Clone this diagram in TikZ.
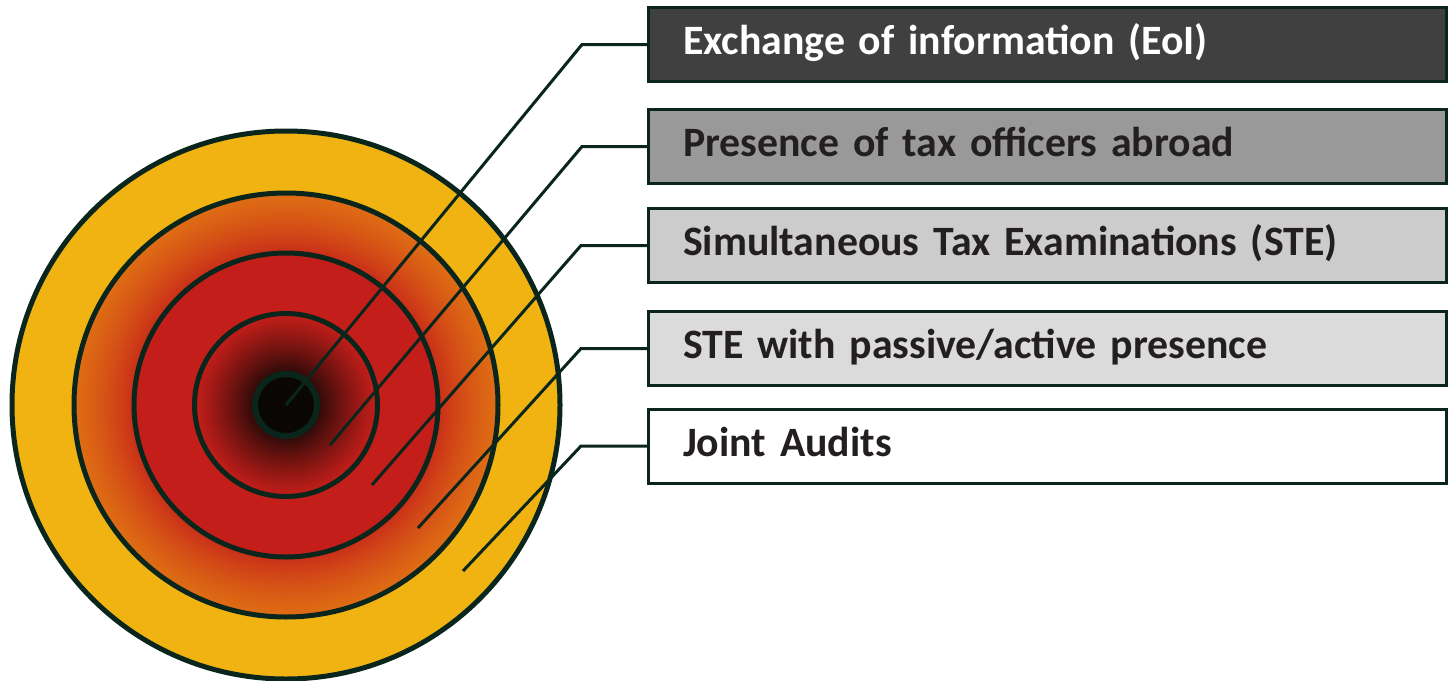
\documentclass[tikz,border=0pt]{standalone}
\usepackage{fontspec}
\setmainfont{Carlito}
\definecolor{lineC}{RGB}{10,38,28}
\definecolor{yel}{RGB}{240,179,18}
\definecolor{org}{RGB}{222,108,20}
\definecolor{redC}{RGB}{196,30,26}
\definecolor{blk}{RGB}{10,6,4}
\definecolor{txtD}{RGB}{35,31,32}
\definecolor{f1}{RGB}{64,64,64}
\definecolor{f2}{RGB}{153,153,153}
\definecolor{f3}{RGB}{204,204,204}
\definecolor{f4}{RGB}{219,219,219}
\tikzset{
  ring/.style={draw=lineC, line width=2.5pt},
  lbox/.style={draw=lineC, line width=1.5pt, rectangle, minimum height=37pt,
    text width=364.5pt, inner xsep=17.25pt, inner ysep=0pt, align=left,
    text height=14pt, text depth=4pt,
    font=\fontsize{20.9}{24}\selectfont\bfseries, text=txtD},
  conn/.style={draw=lineC, line width=1.5pt},
}
\begin{document}
\begin{tikzpicture}[x=0.5pt,y=-0.5pt]
\useasboundingbox (0,0) rectangle (1451,680);
\coordinate (c) at (286,405);
% outer disc
\fill[yel] (c) circle[radius=137pt];
% ring 2 gradient orange -> red
\foreach \i in {0,...,60}{
  \pgfmathsetmacro{\rr}{(212-\i)/2}
  \pgfmathsetmacro{\pp}{100-80*(\i/60)^1.3}
  \fill[org!\pp!redC] (c) circle[radius=\rr pt];
}
\fill[redC] (c) circle[radius=76pt];
% ring 4 gradient red -> dark
\foreach \i in {0,...,66}{
  \pgfmathsetmacro{\rr}{(91-\i)/2}
  \pgfmathsetmacro{\pp}{100*((66-\i)/66)^0.8}
  \fill[redC!\pp!blk] (c) circle[radius=\rr pt];
}
\draw[ring] (c) circle[radius=137pt];
\draw[ring] (c) circle[radius=106pt];
\draw[ring] (c) circle[radius=76pt];
\draw[ring] (c) circle[radius=45.75pt];
\draw[draw=lineC, fill=blk, line width=3pt] (c) circle[radius=15.5pt];

% boxes
\node[lbox, fill=f1, text=white] (b1) at (1047.5,44.5) {Exchange of information (EoI)};
\node[lbox, fill=f2] (b2) at (1047.5,146.5) {Presence of tax officers abroad};
\node[lbox, fill=f3] (b3) at (1047.5,245.5) {Simultaneous Tax Examinations (STE)};
\node[lbox, fill=f4] (b4) at (1047.5,348.5) {STE with passive/active presence};
\node[lbox, fill=white] (b5) at (1047.5,446) {Joint Audits};

% connector start points
\coordinate (s1) at (286,405);
\coordinate (s2) at (330,445);
\coordinate (s3) at (372,485);
\coordinate (s4) at (418,528);
\coordinate (s5) at (463,571);
\coordinate (k1) at (582,0);
\coordinate (k2) at (582,0);
\coordinate (k3) at (581,0);
\coordinate (k4) at (581,0);
\coordinate (k5) at (581,0);
\foreach \n in {1,...,5}{
  \draw[conn] (s\n) -- (k\n |- b\n.west) -- (b\n.west);
}
\end{tikzpicture}
\end{document}
